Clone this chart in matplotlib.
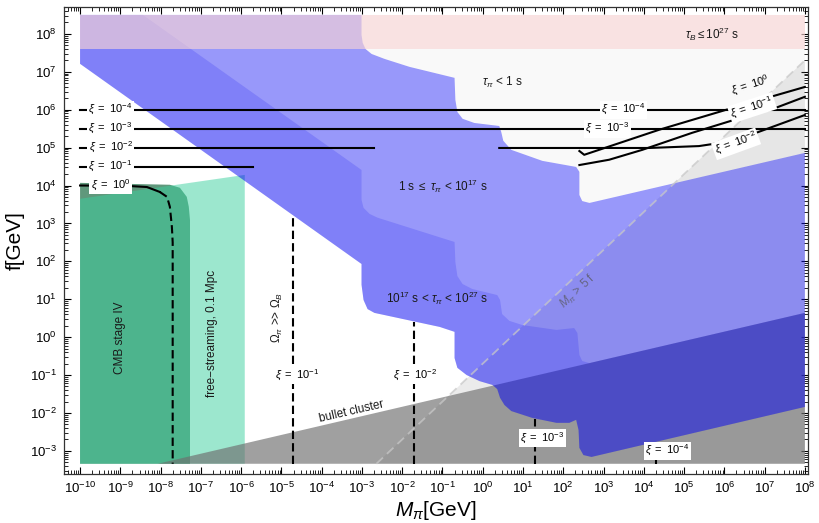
import matplotlib.pyplot as plt
import numpy as np
from matplotlib.ticker import LogLocator, NullFormatter

plt.rcParams['font.family'] = ['Liberation Sans', 'DejaVu Sans']
plt.rcParams['mathtext.fontset'] = 'custom'
plt.rcParams['mathtext.rm'] = 'Liberation Sans'
plt.rcParams['mathtext.it'] = 'Liberation Sans:italic'
plt.rcParams['mathtext.bf'] = 'Liberation Sans:bold'

# all values are log10(M/GeV) and log10(f/GeV)
M_lo, M_hi = -10.0, 8.0
f_lo, f_hi = -3.34, 8.5
x_decades = np.arange(-10, 9)
y_decades = np.arange(-3, 9)

# tau_pi = 1 s contour
tau1_M = [-3.01, -3.01, -2.98, -2.91, -2.76, -2.44, -1.82, -0.70, -0.68, -0.63, -0.50, -0.21,
          0.41, 0.46, 0.51, 0.71, 1.48, 2.32, 2.40, 2.40, 2.47, 2.65, 8.0]
tau1_f = [8.5, 7.97, 7.76, 7.60, 7.47, 7.34, 7.13, 6.84, 6.26, 5.94, 5.76, 5.65,
          5.57, 5.41, 5.18, 4.94, 4.65, 4.49, 4.36, 3.75, 3.59, 3.54, 4.86]
# tau_pi = 1e17 s contour
tau17_M = [-8.44, -3.01, -3.01, -2.96, -2.81, -2.61, -0.70, -0.68, -0.63, -0.50, -0.26, 0.36,
           0.43, 0.48, 0.66, 0.98, 1.83, 2.27, 2.35, 2.40, 2.47, 2.65]
tau17_f = [8.5, 4.41, 3.62, 3.41, 3.25, 3.15, 2.51, 1.98, 1.61, 1.40, 1.27, 1.11,
           0.98, 0.61, 0.43, 0.32, 0.19, 0.24, 0.11, -0.47, -0.63, -0.685]
# tau_pi = 1e27 s contour
tau27_M = [-10.0, -3.01, -3.01, -2.96, -2.86, -2.69, -1.64, -1.07, -0.70, -0.70, -0.63, -0.40,
           -0.08, 0.24, 0.36, 0.43, 0.54, 0.71, 1.23, 1.83, 2.15, 2.32, 2.38, 2.40, 2.50, 2.70, 8.0]
tau27_f = [7.21, 1.93, 1.38, 0.98, 0.74, 0.64, 0.40, 0.27, 0.14, -0.55, -0.81, -1.00,
           -1.16, -1.26, -1.37, -1.60, -1.79, -1.95, -2.13, -2.26, -2.26, -2.18, -2.45, -2.92, -3.11, -3.16, -1.84]
# bullet cluster edge
bullet_M = [-8.07, 8.0]
bullet_f = [-3.34, 0.64]
# green regions
cmb_M = [-10.0, -7.77, -7.52, -7.35, -7.30, -7.27, -7.27, -10.0]
cmb_f = [4.07, 4.02, 3.94, 3.70, 3.44, 3.09, -3.34, -3.34]
fs_M = [-10.0, -5.91, -5.91, -10.0]
fs_f = [3.65, 4.28, -3.34, -3.34]
# baryon lifetime band
tauB_f = [7.60, 8.5]
# M_pi = 5 f
m5f_shift = np.log10(5)

# xi contours
xi_h_f = [6.0, 5.5, 5.0, 4.5]
xi_h_end = [8.0, 8.0, -2.69, -5.71]
xi_h_txt = [r'$\xi\ =\ 10^{-4}$', r'$\xi\ =\ 10^{-3}$', r'$\xi\ =\ 10^{-2}$', r'$\xi\ =\ 10^{-1}$']
xi0_solid_M = [-10.0, -8.83, -8.34, -8.02]
xi0_solid_f = [4.0, 3.99, 3.96, 3.83]
xi0_dash_M = [-8.02, -7.84, -7.77, -7.72, -7.70, -7.70]
xi0_dash_f = [3.83, 3.70, 3.44, 2.91, 2.5, -3.34]
xi_v_M = [-4.70, -1.70, 1.30, 4.30]
xi_v_top = [3.21, 0.40, -2.17, -2.77]
xi_v_txt = [r'$\xi\ =\ 10^{-1}$', r'$\xi\ =\ 10^{-2}$', r'$\xi\ =\ 10^{-3}$', r'$\xi\ =\ 10^{-4}$']
xi_v_lab = [(-4.61, -1.0), (-1.68, -1.0), (1.48, -2.66), (4.58, -3.0)]
# rising contours (tau < 1 s region)
r0_M = [2.40, 2.52, 4.38, 6.37, 8.0]
r0_f = [4.91, 4.81, 5.47, 6.10, 6.60]
r1_M = [2.40, 3.14, 3.96, 5.20, 6.24, 7.28, 8.0]
r1_f = [4.54, 4.68, 4.94, 5.39, 5.73, 6.05, 6.34]
r2_M = [0.41, 4.13, 5.37, 5.87, 6.79, 8.0]
r2_f = [4.99, 4.99, 5.04, 5.12, 5.39, 5.86]


def P(a):
    return 10 ** np.asarray(a, dtype=float)


fig = plt.figure(figsize=(8.2, 5.23), dpi=100)
ax = fig.add_axes([0.078, 0.0937, 0.907, 0.893])
ax.set_xscale('log')
ax.set_yscale('log')

# tau < 1 s (almost white)
ax.fill(P(tau1_M + [8.0, -3.01]), P(tau1_f + [8.5, 8.5]), color='#f9f9f9', lw=0, zorder=1)
# CMB and free streaming
ax.fill(P(cmb_M), P(cmb_f), color=(96/255, 152/255, 124/255), lw=0, zorder=2)
ax.fill(P(fs_M), P(fs_f), color=(59/255, 209/255, 159/255), alpha=0.5, lw=0, zorder=3)
# M > 5 f region
ax.fill(P([f_lo + m5f_shift, 8.0, 8.0]), P([f_lo, 8.0 - m5f_shift, f_lo]),
        color='#808080', alpha=0.157, lw=0, zorder=4)
# bullet cluster
ax.fill(P(bullet_M + [8.0]), P(bullet_f + [f_lo]), color='#6e6e6e', alpha=0.655, lw=0, zorder=5)
# 1 s <= tau
l_M = [-10.0] + tau1_M + [8.0] + tau27_M[::-1]
l_f = [8.5] + tau1_f + [-1.84] + tau27_f[::-1]
ax.fill(P(l_M), P(l_f), color=(0, 0, 245/255), alpha=0.404, lw=0, zorder=6)
# 1e17 s <= tau < 1e27 s
d_M = [-10.0] + tau17_M + [8.0] + tau27_M[::-1]
d_f = [8.5] + tau17_f + [0.64] + tau27_f[::-1]
ax.fill(P(d_M), P(d_f), color=(0, 0, 240/255), alpha=0.158, lw=0, zorder=7)
# baryon lifetime
ax.fill(P([M_lo, M_hi, M_hi, M_lo]), P([tauB_f[0], tauB_f[0], tauB_f[1], tauB_f[1]]),
        color=(249/255, 213/255, 213/255), alpha=0.64, lw=0, zorder=8)
# M = 5 f line
ax.plot(P([f_lo + m5f_shift, 8.0]), P([f_lo, 8.0 - m5f_shift]), color='#c8c8c8', alpha=0.75,
        lw=1.3, dashes=(5, 3), zorder=9)

# xi contours
for yv, xe in zip(xi_h_f, xi_h_end):
    ax.plot(P([M_lo, xe]), P([yv, yv]), color='black', lw=1.5, zorder=10)
ax.plot(P(xi0_solid_M), P(xi0_solid_f), color='black', lw=1.5, zorder=10)
ax.plot(P(xi0_dash_M), P(xi0_dash_f), color='black', lw=1.5, dashes=(4, 2), zorder=10)
for xv, yt in zip(xi_v_M, xi_v_top):
    ax.plot(P([xv, xv]), P([f_lo, yt]), color='black', lw=1.5, dashes=(4, 2), zorder=10)
for mm, ff in [(r0_M, r0_f), (r1_M, r1_f), (r2_M, r2_f)]:
    ax.plot(P(mm), P(ff), color='black', lw=1.5, zorder=10)

box = dict(facecolor='white', edgecolor='none', pad=1.0)
lab_kw = dict(fontsize=8, ha='center', va='center', zorder=11)
for yv, t in zip(xi_h_f + [4.0], xi_h_txt + [r'$\xi\ =\ 10^{0}$']):
    ax.text(10 ** -9.24, 10 ** yv, t, bbox=box, **lab_kw)
ax.text(10 ** 3.49, 10 ** 6.0, xi_h_txt[0], bbox=box, **lab_kw)
ax.text(10 ** 3.09, 10 ** 5.5, xi_h_txt[1], bbox=box, **lab_kw)
for t, (xx, yy) in zip(xi_v_txt, xi_v_lab):
    ax.text(10 ** xx, 10 ** yy, t, bbox=box, **lab_kw)
ax.text(10 ** 6.66, 10 ** 6.63, r'$\xi\ =\ 10^{0}$', rotation=18, **lab_kw)
ax.text(10 ** 6.69, 10 ** 6.05, r'$\xi\ =\ 10^{-1}$', rotation=18, bbox=box, **lab_kw)
ax.text(10 ** 6.29, 10 ** 5.10, r'$\xi\ =\ 10^{-2}$', rotation=20, bbox=box, **lab_kw)

# region labels
txt_kw = dict(fontsize=8.5, ha='center', va='center', zorder=11, color='#1a1a1a')
ax.text(10 ** 5.70, 10 ** 8.0, r'$\tau_B \leq 10^{27}$ s', **txt_kw)
ax.text(10 ** 0.49, 10 ** 6.73, r'$\tau_\pi$ < 1 s', **txt_kw)
ax.text(10 ** -1.0, 10 ** 3.99, r'1 s $\leq\ \tau_\pi$ < 10$^{17}$ s', **txt_kw)
ax.text(10 ** -1.12, 10 ** 1.03, r'10$^{17}$ s < $\tau_\pi$ < 10$^{27}$ s', **txt_kw)
ax.text(10 ** -9.01, 10 ** -0.02, 'CMB stage IV', rotation=90, **txt_kw)
ax.text(10 ** -6.73, 10 ** 0.11, 'free\u2212streaming, 0.1 Mpc', rotation=90, **txt_kw)
ax.text(10 ** -5.09, 10 ** 0.51, r'$\Omega_\pi$ >> $\Omega_B$', rotation=90, **txt_kw)
ax.text(10 ** -3.26, 10 ** -1.97, 'bullet cluster', rotation=13, **txt_kw)
ax.text(10 ** 2.36, 10 ** 1.20, r'$M_\pi$ > 5 f', rotation=43, fontsize=8.5, ha='center',
        va='center', color='#555555', alpha=0.7, zorder=11)

ax.set_xlim(10 ** -10.4, 10 ** 8.07)
ax.set_ylim(10 ** -3.61, 10 ** 8.71)
ax.set_xticks(P(x_decades))
ax.set_yticks(P(y_decades))
for axis in (ax.xaxis, ax.yaxis):
    axis.set_minor_locator(LogLocator(base=10, subs=np.arange(2, 10), numticks=40))
    axis.set_minor_formatter(NullFormatter())
ax.tick_params(which='both', direction='in', top=True, right=True, labelsize=9.5, pad=5)
ax.tick_params(which='major', length=5, width=0.8)
ax.tick_params(which='minor', length=2.8, width=0.6)
for s in ax.spines.values():
    s.set_linewidth(0.9)
    s.set_color('#333333')

ax.set_xlabel(r'$M_\pi$[GeV]', fontsize=15, labelpad=2)
ax.set_ylabel('f[GeV]', fontsize=15, labelpad=4)

plt.savefig('out.png', dpi=100)
